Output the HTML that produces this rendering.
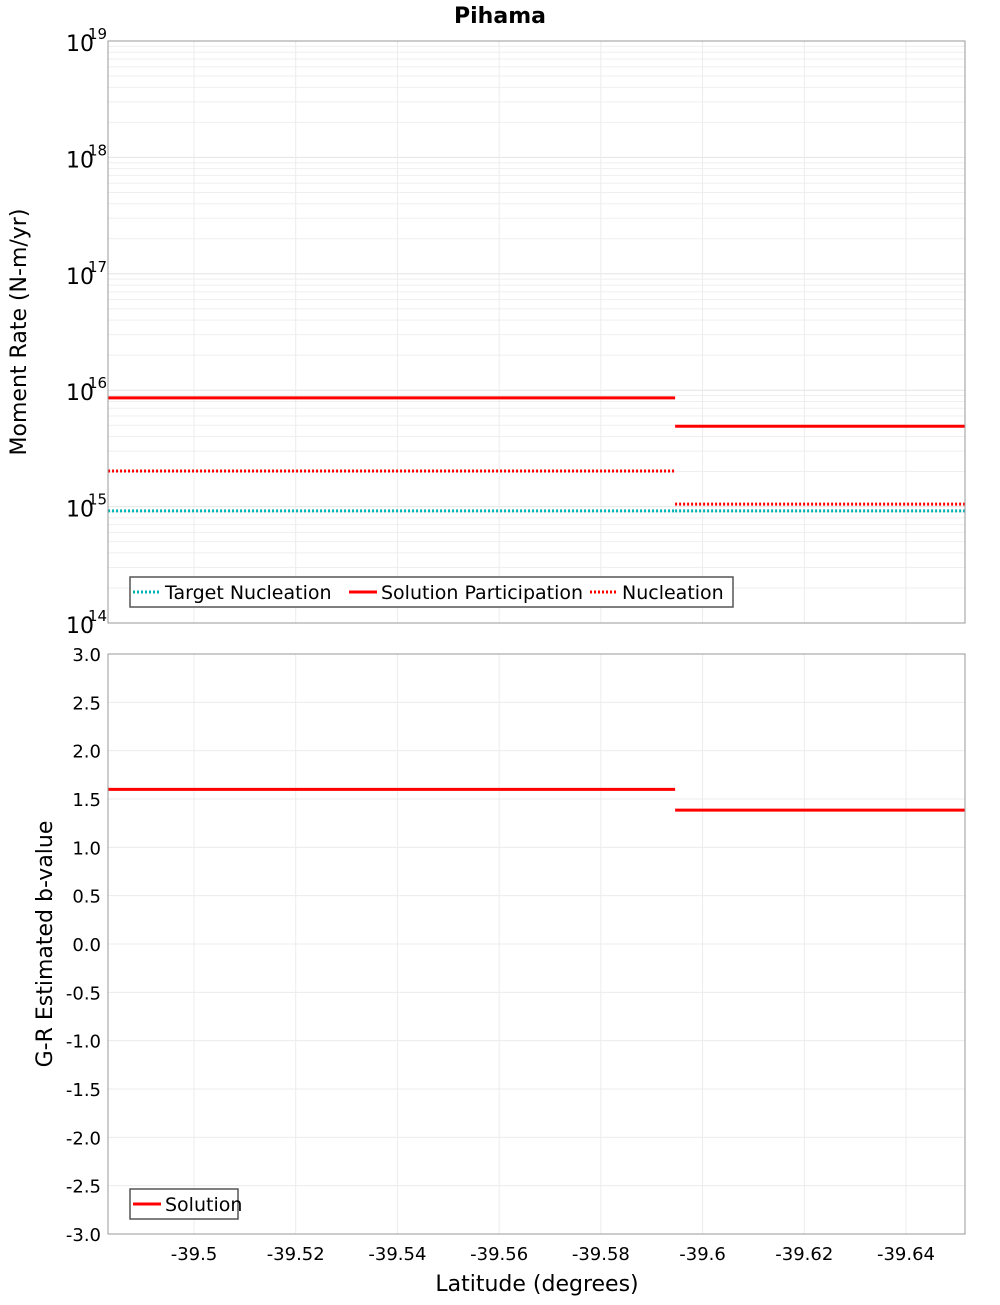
<!DOCTYPE html>
<html><head><meta charset="utf-8"><style>
body{margin:0;background:#fff;}
svg text{font-family:"DejaVu Sans","Liberation Sans",sans-serif;fill:#000;}
</style></head><body>
<svg id="chart" width="1000" height="1300" xmlns="http://www.w3.org/2000/svg">
<text x="500" y="23" text-anchor="middle" font-size="22" font-weight="bold">Pihama</text>
<g id="topg"></g><g id="botg"></g><g id="xaxg"></g>
</svg>
<script>
const xTicks=[-39.5,-39.52,-39.54,-39.56,-39.58,-39.6,-39.62,-39.64];
const xTickLabels=["-39.5","-39.52","-39.54","-39.56","-39.58","-39.6","-39.62","-39.64"];
const segStart=[-39.4831,-39.5946];
const segEnd=[-39.5946,-39.6516];
const solutionParticipation=[8.6e15,4.9e15];
const nucleation=[2.02e15,1.05e15];
const targetNucleation=[9.2e14,9.2e14];
const bValues=[1.6,1.385];
const yLogTicks=[14,15,16,17,18,19];
const bTicks=[-3,-2.5,-2,-1.5,-1,-0.5,0,0.5,1,1.5,2,2.5,3];

const NS="http://www.w3.org/2000/svg";
const L=108,R=965,T1=41,B1=623,T2=654,B2=1234;
const X=v=>194+(v-(-39.5))/(-0.02)*101.714;
const Y1=v=>B1-(Math.log10(v)-14)/5*(B1-T1);
const Y2=v=>B2-(v+3)/6*(B2-T2);
function mk(g,tag,a,txt){const e=document.createElementNS(NS,tag);for(const k in a)e.setAttribute(k,a[k]);if(txt!==undefined)e.textContent=txt;g.appendChild(e);return e;}
const gTop=document.getElementById('topg'),gBot=document.getElementById('botg'),gX=document.getElementById('xaxg');
for(let d=14;d<19;d++)for(let m=2;m<=9;m++){const y=Y1(m*Math.pow(10,d));const e=mk(gTop,'line',{x1:L,x2:R,y1:y,y2:y,stroke:'#efefef','stroke-width':1});

}
yLogTicks.forEach(t=>{const y=Y1(Math.pow(10,t));const g=mk(gTop,'line',{x1:L,x2:R,y1:y,y2:y,stroke:'#e4e4e4','stroke-width':1});


const tx=mk(gTop,'text',{x:66,y:y+10,'font-size':22},'10');


const sp=mk(gTop,'text',{x:88,y:y-2,'font-size':15},String(t));

});
xTicks.forEach(t=>{[[T1,B1,gTop],[T2,B2,gBot]].forEach(([a,b,g])=>{const e=mk(g,'line',{x1:X(t),x2:X(t),y1:a,y2:b,stroke:'#ececec','stroke-width':1});

});});
bTicks.forEach(t=>{const y=Y2(t);const e=mk(gBot,'line',{x1:L,x2:R,y1:y,y2:y,stroke:'#ececec','stroke-width':1});


const tx=mk(gBot,'text',{x:101,y:y+7,'font-size':18,'text-anchor':'end'},t.toFixed(1));

});
function seg(g,arr,Y,col,dash,name){arr.forEach((v,i)=>{const a={x1:X(segStart[i]),x2:X(segEnd[i]),y1:Y(v),y2:Y(v),stroke:col,'stroke-width':3};if(dash)a['stroke-dasharray']=dash;const e=mk(g,'line',a);

});}
seg(gTop,targetNucleation,Y1,'#00b3b3','2,2','target-nucleation');
seg(gTop,nucleation,Y1,'#ff0000','2,2','nucleation');
seg(gTop,solutionParticipation,Y1,'#ff0000',null,'solution-participation');
seg(gBot,bValues,Y2,'#ff0000',null,'solution-b-value');
[[T1,B1,gTop],[T2,B2,gBot]].forEach(([a,b,g])=>{const e=mk(g,'rect',{x:L,y:a,width:R-L,height:b-a,fill:'none',stroke:'#999','stroke-width':1});

});
function legend(g,x,y,w,items,name){const box=mk(g,'rect',{x:x,y:y,width:w,height:30,fill:'#fff',stroke:'#555','stroke-width':1.5});


items.forEach(([lx,col,dash,label])=>{const a={x1:lx,x2:lx+28,y1:y+15,y2:y+15,stroke:col,'stroke-width':3};if(dash)a['stroke-dasharray']=dash;const l=mk(g,'line',a);


const t=mk(g,'text',{x:lx+32,y:y+22,'font-size':19},label);

});}
legend(gTop,130,577,603,[[133,'#00b3b3','2,2','Target Nucleation'],[349,'#ff0000',null,'Solution Participation'],[590,'#ff0000','2,2','Nucleation']],'top-legend');
legend(gBot,130,1189,108,[[133,'#ff0000',null,'Solution']],'bottom-legend');
xTicks.forEach((t,i)=>{const e=mk(gX,'text',{x:X(t),y:1260,'font-size':18,'text-anchor':'middle'},xTickLabels[i]);

});
const xt=mk(gX,'text',{x:537,y:1291,'font-size':22,'text-anchor':'middle'},'Latitude (degrees)');


const y1t=mk(gX,'text',{x:0,y:0,'font-size':22,'text-anchor':'middle',transform:'translate(26,332) rotate(-90)'},'Moment Rate (N-m/yr)');


const y2t=mk(gX,'text',{x:0,y:0,'font-size':22,'text-anchor':'middle',transform:'translate(52,944) rotate(-90)'},'G-R Estimated b-value');


</script>
</body></html>
